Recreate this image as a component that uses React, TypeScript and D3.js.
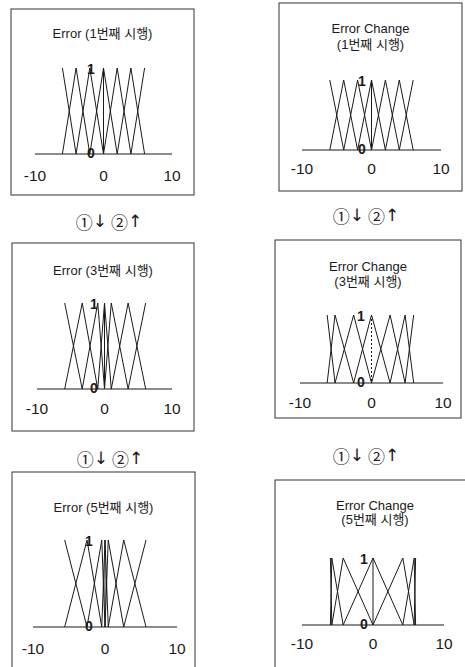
import React from "react";
import * as d3 from "d3";

// ---- data ----
const xTicks = [-10, 0, 10];
const yLabels = ["1", "0"];
const errorTitles = ["Error (1번째 시행)", "Error (3번째 시행)", "Error (5번째 시행)"];
const changeTitles1 = ["Error Change", "(1번째 시행)"];
const changeTitles3 = ["Error Change", "(3번째 시행)"];
const changeTitles5 = ["Error Change", "(5번째 시행)"];
const stepParts = ["①", "↓\uFE0E", " ", "②", "↑\uFE0E"];
// peak positions of the 7 membership functions (NB..PB)
const errorPeaks1 = [-6, -4, -2, 0, 2, 4, 6];
const errorPeaks3 = [-5.9, -3.3, -1.0, 0, 1.0, 3.5, 6.1];
const errorPeaks5 = [-5.6, -2.5, -0.45, 0, 0.45, 2.6, 5.7];
const changePeaks1 = [-6, -4, -2, 0, 2, 4, 6];
const changePeaks3 = [-6.2, -5.1, -2.5, 0, 2.6, 4.7, 5.9];
const changePeaks5 = [-6, -5.8, -4.2, 0, 4.2, 5.8, 6];

// ---- layout ----
type Panel = {
  box: [number, number, number, number];
  xr: [number, number];
  top: number;
  axis: number;
  titles: string[];
  titleY: number[];
  tickY: number;
  labelX: number;
  peaks: number[];
  dottedZero?: boolean;
};

const panels: Panel[] = [
  { box: [11, 9, 183, 186], xr: [35, 172], top: 68, axis: 154, titles: [errorTitles[0]], titleY: [33], tickY: 175, labelX: 91, peaks: errorPeaks1 },
  { box: [279, 3, 183, 188], xr: [302, 441], top: 80, axis: 150, titles: changeTitles1, titleY: [28, 44], tickY: 168, labelX: 362, peaks: changePeaks1 },
  { box: [12, 243, 182, 188], xr: [37, 172], top: 303, axis: 389, titles: [errorTitles[1]], titleY: [270], tickY: 408, labelX: 94, peaks: errorPeaks3 },
  { box: [275, 240, 186, 178], xr: [300, 443], top: 315, axis: 383, titles: changeTitles3, titleY: [266, 281], tickY: 402, labelX: 361, peaks: changePeaks3, dottedZero: true },
  { box: [12, 472, 183, 220], xr: [33, 177], top: 540, axis: 627, titles: [errorTitles[2]], titleY: [507], tickY: 648, labelX: 89, peaks: errorPeaks5 },
  { box: [275, 480, 200, 220], xr: [302, 444], top: 558, axis: 625, titles: changeTitles5, titleY: [505, 519], tickY: 643, labelX: 364, peaks: changePeaks5 },
];

const stepLabels: [number, number][] = [
  [109, 221],
  [366, 215],
  [110, 458],
  [366, 455],
];

const FONT = "'Liberation Sans', Arial, 'Noto Sans CJK KR', sans-serif";
const INK = "#1a1a1a";

function mfSegments(peaks: number[]): [number, number][][] {
  const n = peaks.length;
  return peaks.map((c, i) => {
    if (i === 0) return [[c, 1], [peaks[1], 0]];
    if (i === n - 1) return [[peaks[n - 2], 0], [c, 1]];
    return [[peaks[i - 1], 0], [c, 1], [peaks[i + 1], 0]];
  });
}

function PanelView({ p }: { p: Panel }) {
  const x = d3.scaleLinear().domain([-10, 10]).range(p.xr);
  const y = d3.scaleLinear().domain([0, 1]).range([p.axis, p.top]);
  const line = d3
    .line<[number, number]>()
    .x((d) => x(d[0]))
    .y((d) => y(d[1]));
  const [bx, by, bw, bh] = p.box;
  return (
    <g>
      <rect x={bx} y={by} width={bw} height={bh} fill="none" stroke="#333" strokeWidth={1} />
      {p.titles.map((t, i) => (
        <text key={i} x={bx + bw / 2} y={p.titleY[i]} textAnchor="middle" dominantBaseline="central" fontFamily={FONT} fontSize={13} fill={INK}>
          {t}
        </text>
      ))}
      <line x1={x(-10)} x2={x(10)} y1={y(0)} y2={y(0)} stroke={INK} strokeWidth={1.2} />
      {mfSegments(p.peaks).map((seg, i) => (
        <path key={i} d={line(seg) || ""} fill="none" stroke={INK} strokeWidth={1} />
      ))}
      <line x1={x(0)} x2={x(0)} y1={y(1)} y2={y(0)} stroke={INK} strokeWidth={1} strokeDasharray={p.dottedZero ? "2,2" : undefined} />
      {xTicks.map((t) => (
        <text key={t} x={x(t)} y={p.tickY} textAnchor="middle" dominantBaseline="central" fontFamily={FONT} fontSize={15.5} fill={INK}>
          {t}
        </text>
      ))}
      <text x={p.labelX} y={y(1) + 1} textAnchor="middle" dominantBaseline="central" fontFamily={FONT} fontSize={14} fontWeight="bold" fill={INK}>
        {yLabels[0]}
      </text>
      <text x={p.labelX} y={y(0) - 1} textAnchor="middle" dominantBaseline="central" fontFamily={FONT} fontSize={14} fontWeight="bold" fill={INK}>
        {yLabels[1]}
      </text>
    </g>
  );
}

export default function App() {
  return (
    <svg width={465} height={667} viewBox="0 0 465 667" style={{ position: "absolute", left: 0, top: 0, background: "#fff" }}>
      <rect x={0} y={0} width={465} height={667} fill="#fff" />
      {panels.map((p, i) => (
        <PanelView key={i} p={p} />
      ))}
      {stepLabels.map(([sx, sy], i) => (
        <text key={i} x={sx} y={sy} textAnchor="middle" dominantBaseline="central" fontSize={17} fill={INK}>
          {stepParts.map((s, j) => (
            <tspan key={j} fontFamily={s.startsWith("↓") || s.startsWith("↑") ? "'DejaVu Sans', sans-serif" : "'Noto Sans CJK KR', 'DejaVu Sans', sans-serif"}>
              {s}
            </tspan>
          ))}
        </text>
      ))}
    </svg>
  );
}
